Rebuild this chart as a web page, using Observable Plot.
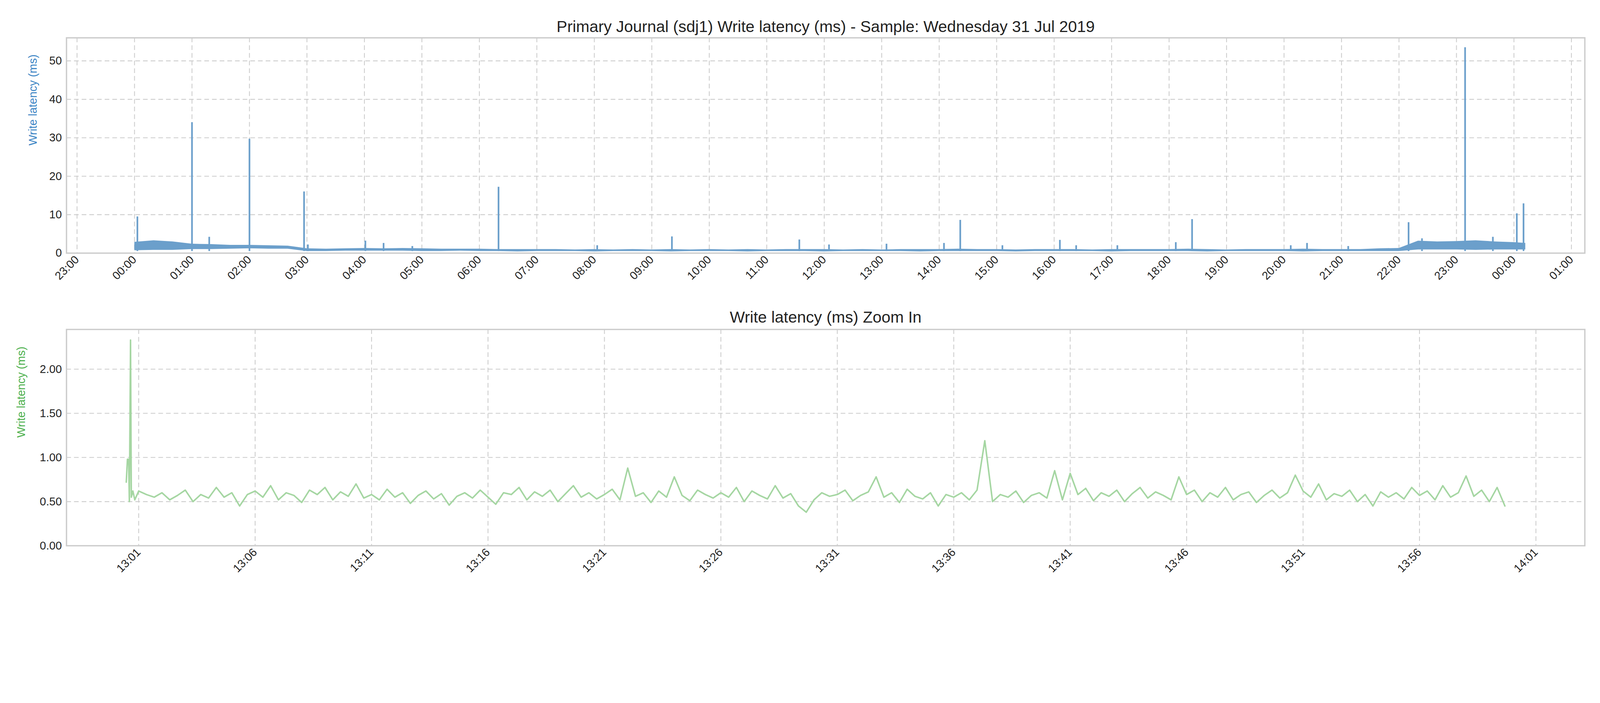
<!DOCTYPE html>
<html>
<head>
<meta charset="utf-8">
<script src="https://cdn.jsdelivr.net/npm/d3@7"></script>
<script src="https://cdn.jsdelivr.net/npm/@observablehq/plot@0.6"></script>
<style>
  body { margin: 0; background: #fff; font-family: "Liberation Sans", Arial, sans-serif; overflow: hidden; }
  svg { display: block; }
</style>
</head>
<body>
<script>
// ---- top chart: full day envelope (every 20 min from 00:00) + spikes ----
const dayHi = [
  2.9,3.3,3.0, 2.4,2.3,2.1, 2.1,2.0,1.9, 1.2,1.1,1.2, 1.3,1.2,1.3, 1.2,1.1,1.1,
  1.1,1.0,1.0, 1.0,1.0,0.9, 1.0,0.9,1.0, 0.9,1.0,0.9, 1.0,0.9,1.0, 0.9,1.0,1.0,
  1.0,0.9,1.0, 0.9,1.0,1.0, 1.0,1.1,1.0, 1.0,0.9,1.0, 1.0,1.0,0.9, 1.0,1.0,1.0,
  1.0,1.1,1.0, 0.9,1.0,1.0, 1.0,1.1,1.0, 1.0,1.0,1.2, 1.3,3.2,3.0, 3.1,3.3,3.0,
  2.8
];
const dayLo = [
  0.7,0.8,0.8, 1.0,1.0,1.1, 1.2,1.1,1.1, 0.5,0.5,0.6, 0.6,0.6,0.6, 0.5,0.5,0.6,
  0.5,0.5,0.4, 0.5,0.5,0.5, 0.4,0.5,0.5, 0.5,0.4,0.5, 0.5,0.5,0.4, 0.5,0.5,0.5,
  0.4,0.5,0.5, 0.5,0.5,0.4, 0.5,0.5,0.5, 0.5,0.4,0.5, 0.5,0.5,0.5, 0.4,0.5,0.5,
  0.5,0.5,0.4, 0.5,0.5,0.5, 0.5,0.4,0.5, 0.5,0.5,0.5, 0.5,0.9,0.9, 0.9,0.8,0.9,
  0.9
];
const lastTime = "24:12", lastHi = 2.6, lastLo = 0.9;

const spikeTimes = ["00:03","01:00","01:18","02:00","02:57","03:01","04:01","04:20","04:50",
  "06:20","08:03","09:21","11:34","12:05","13:05","14:05","14:22","15:06","16:06","16:23",
  "17:06","18:07","18:24","20:07","20:24","21:07","22:10","22:24","23:09","23:38","24:03","24:10"];
const spikePeaks = [9.5,34,4.2,29.7,16,2.2,3.2,2.6,1.8,
  17.2,2.0,4.3,3.5,2.2,2.4,2.6,8.6,2.0,3.4,2.0,
  2.0,2.8,8.8,2.0,2.6,1.8,8.0,3.8,53.5,4.2,10.3,12.9];

// ---- bottom chart: zoom in 13:00 - 14:00 ----
const zoomHeadTimes = ["13:00:28","13:00:31","13:00:34","13:00:36","13:00:39","13:00:41","13:00:45","13:00:50"];
const zoomHeadValues = [0.72,0.98,0.98,0.50,2.33,0.55,0.62,0.52];
// every 20 s from 13:01:00
const zoomValues = [
  0.62,0.58,0.55,0.60,0.52,0.57,0.63,0.50,0.58,0.54,0.66,0.55,0.60,0.45,0.58,
  0.62,0.55,0.68,0.52,0.60,0.57,0.49,0.63,0.58,0.66,0.52,0.61,0.56,0.70,0.54,
  0.58,0.52,0.64,0.55,0.60,0.48,0.57,0.62,0.53,0.59,0.46,0.56,0.60,0.54,0.63,
  0.55,0.47,0.60,0.58,0.66,0.52,0.61,0.56,0.63,0.50,0.59,0.68,0.55,0.60,0.53,
  0.58,0.64,0.52,0.88,0.56,0.60,0.49,0.62,0.55,0.78,0.57,0.51,0.63,0.58,0.54,
  0.60,0.55,0.66,0.50,0.62,0.57,0.53,0.68,0.54,0.59,0.45,0.38,0.52,0.60,0.56,
  0.58,0.63,0.51,0.57,0.61,0.78,0.55,0.60,0.49,0.64,0.56,0.53,0.60,0.45,0.58,
  0.55,0.60,0.52,0.63,1.19,0.50,0.58,0.55,0.62,0.49,0.57,0.60,0.54,0.85,0.52,
  0.82,0.58,0.65,0.51,0.60,0.56,0.63,0.50,0.59,0.66,0.54,0.61,0.57,0.52,0.78,
  0.58,0.63,0.50,0.60,0.55,0.66,0.52,0.58,0.61,0.49,0.57,0.63,0.54,0.60,0.80,
  0.62,0.55,0.70,0.52,0.59,0.56,0.63,0.50,0.58,0.45,0.61,0.55,0.60,0.53,0.66,
  0.57,0.62,0.52,0.68,0.55,0.60,0.79,0.56,0.63,0.50,0.66,0.45
];

const day0 = new Date(2019, 6, 31);
const at = (hm) => {
  const [h, m, s = 0] = hm.split(":").map(Number);
  return new Date(+day0 + ((h * 60 + m) * 60 + s) * 1000);
};

const envelope = dayHi.map((hi, i) => ({ t: new Date(+day0 + i * 20 * 60000), hi, lo: dayLo[i] }));
envelope.push({ t: at(lastTime), hi: lastHi, lo: lastLo });
const spikes = spikeTimes.map((s, i) => ({ t: at(s), peak: spikePeaks[i] }));

const zoom = zoomHeadTimes.map((s, i) => ({ t: at(s), v: zoomHeadValues[i] }))
  .concat(zoomValues.map((v, i) => ({ t: new Date(+at("13:01") + i * 20000), v })));

const blue = "#6b9fcb", green = "#a5d6a2";
const grid = { stroke: "#cccccc", strokeOpacity: 1, strokeWidth: 2.5, strokeDasharray: "14,9" };
const W = 4800;

const hourTicks = d3.range(0, 27).map(i => new Date(+at("23:00") - 24 * 3600000 + i * 3600000));
const topChart = Plot.plot({
  width: W, height: 900,
  marginTop: 113, marginBottom: 141, marginLeft: 199, marginRight: 46,
  style: { fontSize: "34px", fontFamily: "Liberation Sans, Arial, sans-serif", color: "#222" },
  x: { domain: [at("22:49").getTime() - 24 * 3600000, at("25:14")].map(d => new Date(d)) },
  y: { domain: [0, 56] },
  marks: [
    Plot.gridX(hourTicks, grid),
    Plot.gridY([10, 20, 30, 40, 50], grid),
    Plot.areaY(envelope, { x: "t", y1: "lo", y2: "hi", fill: blue }),
    Plot.ruleX(spikes, { x: "t", y1: 0.5, y2: "peak", stroke: blue, strokeWidth: 5 }),
    Plot.frame({ stroke: "#cccccc", strokeWidth: 4 }),
    Plot.axisX(hourTicks, { tickFormat: d3.timeFormat("%H:%M"), tickRotate: -45, tickSize: 0, tickPadding: 14, label: null, fontSize: 34 }),
    Plot.axisY([0, 10, 20, 30, 40, 50], { tickSize: 0, tickPadding: 14, label: null, fontSize: 34 }),
    Plot.text(["Write latency (ms)"], { frameAnchor: "left", dx: -100, rotate: -90, fill: "#3a84c4", fontSize: 34 }),
    Plot.text(["Primary Journal (sdj1) Write latency (ms) - Sample: Wednesday 31 Jul 2019"],
      { frameAnchor: "top", dy: -52, fontSize: 48, fill: "#222" })
  ]
});

const minTicks = d3.range(0, 13).map(i => new Date(+at("13:01") + i * 5 * 60000));
const bottomChart = Plot.plot({
  width: W, height: 900,
  marginTop: 88, marginBottom: 163, marginLeft: 199, marginRight: 46,
  style: { fontSize: "34px", fontFamily: "Liberation Sans, Arial, sans-serif", color: "#222" },
  x: { domain: [at("12:57:54"), at("14:03:06")] },
  y: { domain: [0, 2.45] },
  marks: [
    Plot.gridX(minTicks, grid),
    Plot.gridY([0.5, 1, 1.5, 2], grid),
    Plot.lineY(zoom, { x: "t", y: "v", stroke: green, strokeWidth: 4.5 }),
    Plot.frame({ stroke: "#cccccc", strokeWidth: 4 }),
    Plot.axisX(minTicks, { tickFormat: d3.timeFormat("%H:%M"), tickRotate: -45, tickSize: 0, tickPadding: 14, label: null, fontSize: 34 }),
    Plot.axisY([0, 0.5, 1, 1.5, 2], { tickFormat: ".2f", tickSize: 0, tickPadding: 14, label: null, fontSize: 34 }),
    Plot.text(["Write latency (ms)"], { frameAnchor: "left", dx: -135, rotate: -90, fill: "#4cb04c", fontSize: 34 }),
    Plot.text(["Write latency (ms) Zoom In"], { frameAnchor: "top", dy: -55, fontSize: 48, fill: "#222" })
  ]
});

document.body.append(topChart, bottomChart);
</script>
</body>
</html>
